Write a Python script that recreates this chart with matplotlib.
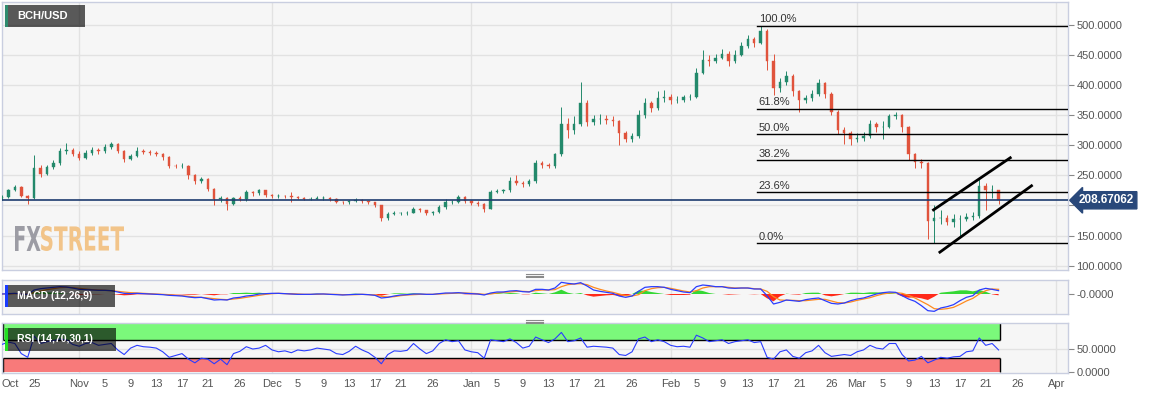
import numpy as np
import matplotlib
matplotlib.use("Agg")
import matplotlib.pyplot as plt
from matplotlib.patches import Rectangle, PathPatch
from matplotlib.textpath import TextPath
from matplotlib.font_manager import FontProperties
from matplotlib.transforms import Affine2D, blended_transform_factory
from matplotlib.lines import Line2D

plt.rcParams['font.family'] = ['Liberation Sans', 'DejaVu Sans']

W, H = 1153, 399

# x = days since 2019-10-01, one candle per day from Oct 20 to Mar 23
first_day = 19
first_open = 212

closes = [214, 226, 231, 216, 212, 262, 252, 264, 270, 290,
          292, 286, 279, 287, 293, 290, 298, 302, 291, 278,
          282, 290, 289, 288, 286, 280, 266, 265, 266, 250,
          240, 244, 227, 210, 212, 203, 212, 210, 222, 220,
          225, 217, 215, 216, 215, 214, 212, 211, 211, 212,
          212, 211, 206, 205, 207, 209, 207, 205, 200, 180,
          186, 188, 188, 188, 195, 192, 187, 189, 197, 206,
          206, 214, 207, 204, 203, 195, 222, 224, 225, 240,
          238, 236, 240, 270, 268, 265, 285, 335, 325, 335,
          370, 338, 343, 343, 342, 340, 320, 311, 315, 350,
          370, 362, 378, 380, 376, 376, 380, 381, 420, 442,
          440, 445, 452, 440, 450, 465, 476, 470, 490, 440,
          395, 405, 415, 390, 375, 378, 385, 404, 385, 355,
          325, 320, 310, 312, 315, 335, 330, 330, 348, 350,
          330, 285, 272, 270, 175, 180, 180, 173, 178, 178,
          181, 182, 232, 225, 225, 208.67]

highs = [218, 228, 234, 232, 218, 284, 268, 268, 276, 296,
         304, 296, 290, 292, 297, 296, 302, 306, 304, 293,
         285, 298, 294, 292, 290, 288, 282, 269, 270, 268,
         252, 247, 246, 229, 216, 214, 214, 215, 226, 224,
         228, 226, 219, 219, 218, 222, 216, 214, 214, 215,
         215, 214, 212, 208, 209, 212, 210, 208, 206, 201,
         189, 191, 190, 191, 198, 196, 193, 191, 200, 210,
         209, 217, 215, 209, 207, 204, 226, 228, 228, 247,
         251, 241, 244, 276, 274, 270, 288, 364, 345, 348,
         405, 375, 350, 352, 350, 348, 342, 324, 320, 358,
         378, 374, 390, 392, 386, 382, 384, 386, 428, 458,
         450, 452, 460, 456, 458, 472, 484, 480, 499, 494,
         452, 412, 424, 418, 392, 384, 392, 410, 406, 388,
         358, 330, 324, 320, 322, 342, 338, 340, 352, 356,
         352, 332, 288, 278, 272, 200, 192, 184, 186, 184,
         188, 190, 246, 238, 234, 226]

lows = [209, 212, 224, 214, 202, 210, 248, 250, 260, 268,
        286, 282, 276, 277, 284, 286, 288, 294, 288, 272,
        276, 280, 285, 284, 283, 276, 263, 262, 263, 244,
        236, 238, 224, 200, 206, 193, 200, 207, 208, 216,
        218, 214, 212, 213, 212, 205, 210, 209, 209, 210,
        209, 208, 204, 203, 203, 205, 204, 203, 197, 174,
        176, 184, 185, 185, 187, 189, 184, 185, 187, 195,
        203, 204, 204, 201, 199, 190, 194, 220, 221, 223,
        234, 230, 232, 238, 262, 262, 263, 282, 312, 318,
        332, 332, 333, 336, 336, 332, 300, 305, 306, 313,
        346, 355, 358, 372, 368, 370, 372, 375, 378, 418,
        432, 436, 444, 432, 436, 448, 462, 464, 468, 425,
        383, 388, 400, 382, 355, 370, 374, 382, 378, 350,
        318, 302, 300, 305, 308, 312, 322, 310, 328, 344,
        322, 275, 262, 262, 145, 137, 170, 168, 165, 150,
        174, 176, 180, 193, 212, 203]

# MACD (12,26,9), in panel units
macd_line = [0, 1, 2, 0, -1, 12, 16, 18, 20, 22,
             21, 18, 14, 13, 12, 11, 11, 10, 6, 2,
             1, 2, 1, 0, -1, -2, -4, -5, -6, -9,
             -11, -10, -14, -18, -17, -18, -12, -10, -6, -4,
             0, 1, 2, 2, 1, 0, -1, -1, -1, 0,
             0, -1, -2, -3, -2, -1, -1, -2, -4, -12,
             -10, -6, -3, -2, 0, 0, -1, -1, 1, 3,
             3, 4, 2, 1, 0, -3, 3, 6, 6, 9,
             10, 7, 6, 14, 14, 12, 18, 35, 32, 30,
             34, 24, 12, 8, 5, 2, -6, -10, -6, 8,
             20, 22, 22, 20, 14, 10, 6, 4, 22, 27,
             25, 22, 22, 18, 17, 18, 18, 15, 15, -5,
             -30, -25, -18, -20, -22, -17, -14, -12, -20, -28,
             -30, -27, -20, -15, -12, -6, 0, 4, 6, 5,
             -5, -15, -22, -35, -50, -52, -42, -38, -32, -20,
             -10, -5, 12, 17, 14, 10]

signal_line = [0, 0, 1, 1, 0, 4, 9, 13, 16, 19,
               20, 19, 17, 15, 13, 12, 11, 10, 8, 6,
               4, 3, 2, 1, 0, -1, -2, -4, -5, -7,
               -9, -10, -12, -14, -16, -17, -15, -13, -10, -7,
               -4, -1, 1, 2, 1, 1, 0, -1, -1, -1,
               0, -1, -1, -2, -2, -2, -1, -2, -3, -7,
               -9, -8, -5, -3, -2, -1, -1, -1, 0, 1,
               2, 3, 3, 2, 1, -1, 0, 3, 5, 6,
               8, 8, 7, 10, 12, 12, 13, 22, 28, 30,
               31, 28, 20, 14, 9, 5, 0, -5, -6, -2,
               10, 16, 19, 20, 17, 13, 9, 6, 10, 18,
               22, 22, 22, 20, 18, 18, 18, 16, 15, 8,
               -8, -18, -19, -19, -20, -20, -18, -16, -16, -21,
               -26, -27, -24, -19, -15, -11, -5, 0, 3, 4,
               2, -4, -12, -22, -32, -44, -46, -44, -40, -31,
               -21, -13, 0, 10, 15, 14]

rsi_line = [60, 65, 62, 40, 32, 78, 62, 66, 68, 72,
            70, 60, 56, 62, 64, 58, 60, 62, 48, 38,
            52, 58, 55, 54, 52, 44, 32, 36, 40, 28,
            20, 30, 28, 18, 28, 16, 40, 45, 55, 50,
            52, 58, 48, 44, 46, 42, 48, 46, 48, 52,
            50, 48, 40, 38, 45, 56, 48, 42, 32, 18,
            38, 46, 45, 47, 62, 50, 40, 46, 62, 70,
            66, 68, 48, 44, 42, 30, 70, 68, 66, 72,
            64, 52, 56, 76, 70, 64, 72, 86, 66, 68,
            74, 54, 56, 55, 54, 52, 38, 36, 44, 72,
            76, 66, 70, 66, 58, 55, 56, 54, 80, 74,
            66, 68, 70, 62, 66, 68, 70, 64, 66, 32,
            28, 44, 48, 34, 30, 42, 46, 58, 42, 34,
            36, 38, 36, 44, 48, 58, 52, 50, 62, 62,
            38, 24, 26, 34, 20, 26, 32, 30, 33, 34,
            44, 46, 74, 58, 62, 48]

tick_days = [20.3, 24, 31, 35, 39, 43, 47, 51, 56, 61, 65, 69, 73, 77, 81, 86,
             92, 96, 100, 104, 108, 112, 117, 123, 127, 131, 135, 139, 143, 148,
             152, 156, 160, 164, 168, 172, 177, 183]
tick_labels = ["Oct", "25", "Nov", "5", "9", "13", "17", "21", "26", "Dec", "5", "9",
               "13", "17", "21", "26", "Jan", "5", "9", "13", "17", "21", "26", "Feb",
               "5", "9", "13", "17", "21", "26", "Mar", "5", "9", "13", "17", "21",
               "26", "Apr"]
month_days = [31, 61, 92, 123, 152, 183]

fib_high = 499
fib_low = 137
fib_ratios = [1.0, 0.618, 0.5, 0.382, 0.236, 0.0]
fib_start = 136.5

channel_upper = [(163.7, 191.4), (176.0, 280.6)]
channel_lower = [(164.7, 121.1), (179.3, 234.1)]

last_price = 208.67062

GREEN = "#23896b"
RED = "#e0533c"
PANEL_BG = "#f6f6f6"
BORDER = "#c9cee0"
GRID = "#e2e2e2"
LABEL = "#555555"


def px_box(x0, y0, x1, y1):
    return [x0 / W, 1 - y1 / H, (x1 - x0) / W, (y1 - y0) / H]


def style_panel(ax):
    ax.set_facecolor(PANEL_BG)
    for s in ax.spines.values():
        s.set_color(BORDER)
        s.set_linewidth(1)
    ax.yaxis.tick_right()
    ax.tick_params(axis='y', labelsize=8, colors="#888888", labelcolor=LABEL,
                   length=4, pad=2)
    ax.set_xlim(19.0, 184.8)
    for m in month_days:
        ax.axvline(m, color=GRID, lw=1, zorder=0)


fig = plt.figure(figsize=(W / 100, H / 100), dpi=100)
fig.patch.set_facecolor("white")

days = np.arange(first_day, first_day + len(closes))
c = np.array(closes, dtype=float)
o = np.concatenate([[first_open], c[:-1]])
hi = np.array(highs, dtype=float)
lo = np.array(lows, dtype=float)

# ---- price panel
ax = fig.add_axes(px_box(2, 2, 1068, 270))
style_panel(ax)
ax.set_ylim(92.8, 538.2)
ax.set_yticks(range(100, 501, 50))
ax.yaxis.set_major_formatter(lambda v, p: f"{v:.4f}")
ax.set_xticks([])
for v in range(100, 501, 50):
    ax.axhline(v, color=GRID, lw=1, zorder=0)

col = np.where(c >= o, GREEN, RED)
ax.vlines(days, lo, hi, colors=col, lw=0.7, zorder=3)
ax.bar(days, c - o, bottom=o, width=0.38, color=col, edgecolor=col, lw=0.3, zorder=4)

ax.axhline(last_price, color="#1d3b6f", lw=1.2, zorder=5)
bt = blended_transform_factory(ax.transAxes, ax.transData)
ax.text(1.0 + 11 / 1066, last_price, f"{last_price:.5f}", transform=bt,
        color="white", fontsize=8.5, fontweight="bold", va="center", ha="left",
        clip_on=False, zorder=10,
        bbox=dict(boxstyle="larrow,pad=0.22", fc="#29487a", ec="#29487a"))

for r in fib_ratios:
    lvl = fib_low + r * (fib_high - fib_low)
    ax.plot([fib_start, 184.8], [lvl, lvl], color="black", lw=1, zorder=6)
    ax.annotate(f"{r * 100:.1f}%", (fib_start + 0.2, lvl), xytext=(0, 1),
                textcoords="offset points", fontsize=8, color="#333333",
                va="bottom", ha="left", zorder=6)

for seg in (channel_upper, channel_lower):
    xs, ys = zip(*seg)
    ax.plot(xs, ys, color="black", lw=2, solid_capstyle="butt", zorder=6)

# ---- MACD panel
ax_m = fig.add_axes(px_box(2, 280, 1068, 314))
style_panel(ax_m)
ax_m.set_ylim(-60, 42)
ax_m.set_yticks([0])
ax_m.set_yticklabels(["-0.0000"])
ax_m.set_xticks([])
m = np.array(macd_line, dtype=float)
s = np.array(signal_line, dtype=float)
hist = m - s
ax_m.fill_between(days, 0, hist, where=hist >= 0, interpolate=True,
                  color="#35d835", lw=0, zorder=2)
ax_m.fill_between(days, 0, hist, where=hist <= 0, interpolate=True,
                  color="#ff2a1a", lw=0, zorder=2)
ax_m.plot(days, s, color="#ff8a1f", lw=0.9, zorder=3)
ax_m.plot(days, m, color="#2a3cff", lw=0.9, zorder=4)

# ---- RSI panel
ax_r = fig.add_axes(px_box(2, 323, 1068, 372.5))
style_panel(ax_r)
ax_r.set_ylim(-1, 106.5)
ax_r.set_yticks([0, 50])
ax_r.yaxis.set_major_formatter(lambda v, p: f"{v:.4f}")
ax_r.axhline(50, color=GRID, lw=1, zorder=0)
band_x0, band_x1 = 19.15, days[-1] + 0.3
ax_r.fill_between([band_x0, band_x1], 70, 110, color="#7bf97b", lw=0, zorder=1)
ax_r.fill_between([band_x0, band_x1], 0, 30, color="#f87a7a", lw=0, zorder=1)
ax_r.hlines([70, 30], band_x0, band_x1, colors="black", lw=1, zorder=2)
ax_r.vlines([band_x0, band_x1], 70, 110, colors="black", lw=1, zorder=2)
ax_r.vlines([band_x0, band_x1], 0, 30, colors="black", lw=1, zorder=2)
ax_r.plot(days, rsi_line, color="#2a3cff", lw=0.8, zorder=3)
ax_r.set_xticks(tick_days)
ax_r.set_xticklabels(tick_labels)
ax_r.tick_params(axis='x', labelsize=8, labelcolor=LABEL, length=0, pad=5)

# ---- label boxes
for (x0, y0, x1, y1, stripe, txt, fs) in [
        (5, 5, 85, 27, "#2e8b6e", "BCH/USD", 8),
        (5, 285, 115, 307, "#1a3cff", "MACD (12,26,9)", 7.5),
        (5, 328, 116, 351, "#22e022", "RSI (14,70,30,1)", 7.5)]:
    fig.add_artist(Rectangle((x0 / W, 1 - y1 / H), (x1 - x0) / W, (y1 - y0) / H,
                             transform=fig.transFigure, fc="black", alpha=0.64,
                             lw=0, zorder=20))
    fig.add_artist(Rectangle((x0 / W, 1 - y1 / H), 3 / W, (y1 - y0) / H,
                             transform=fig.transFigure, fc=stripe, lw=0, zorder=21))
    fig.text(17 / W, 1 - (y0 + y1) / 2 / H, txt, color="white",
             fontsize=fs, fontweight="bold", va="center", ha="left", zorder=22)

# ---- FXSTREET watermark
wm_font = FontProperties(family="DejaVu Sans", weight="bold")
for word, colr, (px0, px1) in [("FX", "#9c9ca4", (15, 40.5)),
                               ("STREET", "#f2c489", (41, 124))]:
    tp = TextPath((0, 0), word, size=20, prop=wm_font)
    ext = tp.get_extents()
    sx = (px1 - px0) / ext.width
    sy = (251 - 226) / ext.height
    tr = (Affine2D().translate(-ext.x0, -ext.y0).scale(sx / W, sy / H)
          .translate(px0 / W, 1 - 251 / H) + fig.transFigure)
    fig.add_artist(PathPatch(tp, transform=tr, fc=colr, lw=0, zorder=2))

# ---- panel resize grips
for yg in (274, 320):
    for dy in (0, 1.6, 3.2):
        fig.add_artist(Line2D([526 / W, 543 / W], [1 - (yg + dy) / H] * 2,
                              transform=fig.transFigure, color="#8a8a8a", lw=0.8))

fig.savefig("out.png", dpi=100, facecolor="white")
